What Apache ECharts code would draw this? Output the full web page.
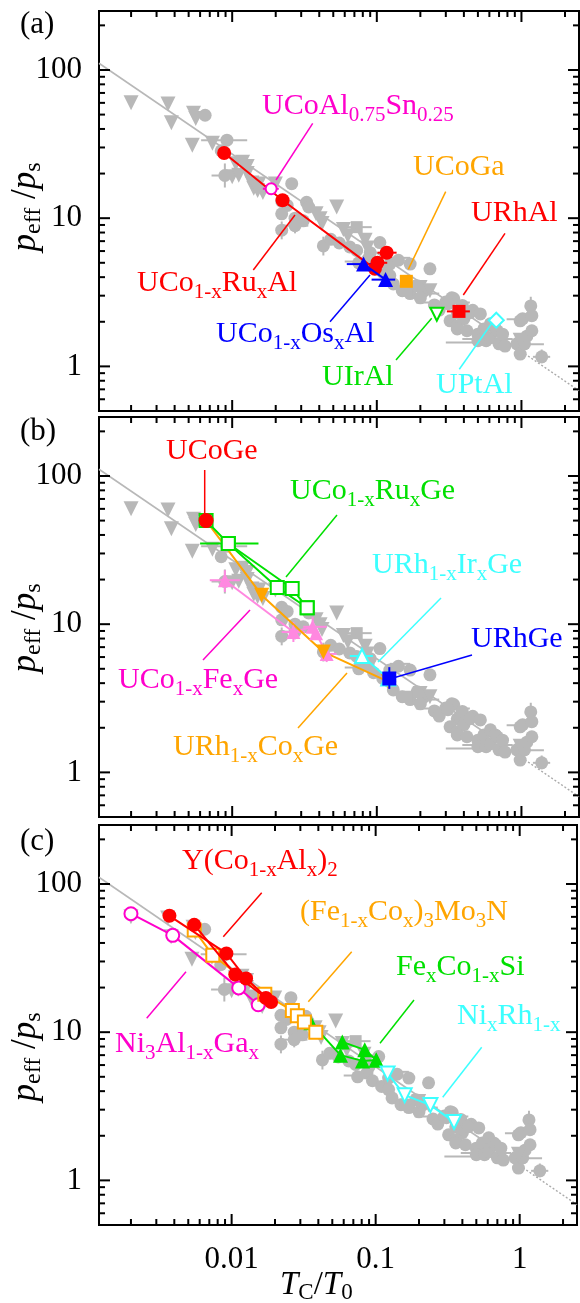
<!DOCTYPE html>
<html><head><meta charset="utf-8">
<script src="https://cdn.jsdelivr.net/npm/echarts@6/dist/echarts.min.js"></script>
<style>html,body{margin:0;padding:0;background:#fff}#c{width:580px;height:1303px}</style>
</head><body><div id="c"></div><script>
// ---------- axes ----------
const X_MIN = 0.0012, X_MAX = 2.5, Y_MIN = 0.5, Y_MAX = 250;
const xTickValues = [0.01, 0.1, 1];
const xTickLabels = ['0.01', '0.1', '1'];
const yTickValues = [1, 10, 100];
const yTickLabels = ['1', '10', '100'];
const xMinorTicks = [0.002,0.003,0.004,0.005,0.006,0.007,0.008,0.009,0.02,0.03,0.04,0.05,0.06,0.07,0.08,0.09,0.2,0.3,0.4,0.5,0.6,0.7,0.8,0.9,2];
const yMinorTicks = [0.6,0.7,0.8,0.9,2,3,4,5,6,7,8,9,20,30,40,50,60,70,80,90,200];

// ---------- gray reference data (same in every panel) ----------
const grayTri = [[0.0020,60],[0.0036,59],[0.0038,44],[0.0054,51],[0.0056,47],[0.0053,31],[0.0073,32],[0.0100,19],[0.0111,19.5],[0.0106,23.3],[0.0127,22.3],[0.0118,23.8],[0.0127,20],[0.0137,17.3],[0.0153,17],[0.0141,15.9],[0.0163,14.9],[0.015,15.4],[0.0199,17],[0.038,10.7],[0.0418,9.2],[0.0528,11.9],[0.0405,9.9],[0.0587,8.4],[0.063,7.6],[0.083,7.1],[0.086,6.3],[0.199,3.4],[0.233,3.24],[0.98,1.5]];
const grayCirc = [[0.0065,49.5],[0.0092,33.6],[0.0084,28.5],[0.0089,19.4],[0.022,13],[0.024,12.2],[0.022,10.7],[0.022,8.3],[0.0258,17.1],[0.0327,12.8],[0.0338,11.9],[0.0272,10],[0.031,9.6],[0.0272,8.9],[0.0427,6.5],[0.048,7.2],[0.055,6.8],[0.065,6.4],[0.0726,6.05],[0.09,5.85],[0.087,5.3],[0.075,5.0],[0.095,4.7],[0.11,4.3],[0.105,6.85],[0.123,4.9],[0.141,5.2],[0.17,4.9],[0.123,4.1],[0.13,3.6],[0.15,3.24],[0.17,3.1],[0.19,3.5],[0.21,3.2],[0.233,4.55],[0.2,2.9],[0.25,2.6],[0.27,2.4],[0.30,2.72],[0.34,2.87],[0.33,2.9],[0.31,2.65],[0.36,2.3],[0.38,2.26],[0.39,2.58],[0.46,2.39],[0.4,2.1],[0.44,2.3],[0.52,2.26],[0.321,2.03],[0.36,1.88],[0.36,1.79],[0.42,1.74],[0.5,1.65],[0.5,1.49],[0.55,1.79],[0.57,1.49],[0.61,1.56],[0.61,1.94],[0.66,1.79],[0.68,1.74],[0.70,1.42],[0.74,1.65],[0.77,1.37],[0.93,1.42],[0.98,2.03],[1.02,2.1],[0.98,1.21],[1.05,1.42],[1.09,1.6],[1.16,2.56],[1.18,2.2],[1.18,1.74],[1.38,1.16]];
const graySq = [[0.0726,8.7],[0.16,3.24]];
const grayErrX = [[33.6,0.0061,0.0127],[19.4,0.0072,0.0111],[8.9,0.022,0.0336],[8.7,0.0587,0.0922],[5.1,0.06,0.09],[5.4,0.123,0.17],[3.1,0.2,0.27],[2.7,0.187,0.44],[1.53,0.39,0.87],[1.45,0.30,0.67],[2.08,0.79,1.27],[1.41,0.75,1.43],[1.16,1.2,1.58]];
const grayErrY = [[0.0089,16.1,23.4],[0.0427,5.6,7.5],[0.022,7.2,9.5],[0.0272,7.9,10],[1.16,2.25,2.95],[1.38,1.05,1.3]];
const fitSolid = [[0.0012,111],[1,1.26]];
const fitDotted = [[1,1.26],[2.5,0.685]];

// ---------- panel (a) ----------
const uCoRuAl = [[0.0088,27.5],[0.0223,13.2],[0.097,4.55],[0.101,5.0],[0.117,5.85]];
const uCoRuAlErrX = [[5.85,0.101,0.137],[5.0,0.094,0.118]];
const uCoOsAl = [[0.081,4.9],[0.115,3.85]];
const uCoOsAlErrX = [[4.9,0.062,0.1],[3.85,0.092,0.134]];
const uCoGa = [[0.16,3.75]];
const uRhAl = [[0.37,2.35]];
const uRhAlErrX = [[2.35,0.305,0.44]];
const uIrAl = [[0.26,2.25]];
const uPtAl = [[0.67,2.05]];
const uCoAlSn = [[0.0186,15.8]];
const uCoAlSnErrX = [[15.8,0.0163,0.021]];

// ---------- panel (b) ----------
const uCoGe = [[0.0066,50]];
const uCoRuGe = [[0.0066,50],[0.0094,35],[0.0205,17.7],[0.033,12.9]];
const uCoRuGe2 = [[0.0094,35],[0.026,17.4],[0.033,12.9]];
const uCoRuGeErrX = [[35,0.006,0.0152]];
const uCoFeGe = [[0.0089,19.8],[0.0265,8.85],[0.036,9.6],[0.038,8.7],[0.045,6.3]];
const uCoFeGeErrX = [[19.8,0.007,0.0113],[8.85,0.022,0.0319],[9.6,0.031,0.045],[6.3,0.0405,0.0527]];
const uCoFeGeErrY = [[0.0089,16.5,23.1],[0.0265,7.58,10.35],[0.036,7.97,11.2],[0.045,5.55,7.19]];
const uRhCoGe = [[0.0066,50],[0.016,15.7],[0.0427,6.5],[0.12,4.1]];
const uRhIrGe = [[0.079,6.1],[0.12,4.3]];
const uRhIrGeErrX = [[6.1,0.065,0.094]];
const uRhGe = [[0.122,4.3]];
const uRhGeErrY = [[0.122,3.66,5.13]];

// ---------- panel (c) ----------
const yCoAlA = [[0.0037,61],[0.0092,34],[0.0126,23],[0.0188,16]];
const yCoAlB = [[0.0055,53],[0.0106,24.5],[0.0173,17]];
const feCoMoN = [[0.0055,49],[0.0074,33],[0.017,18],[0.0264,14],[0.0286,12.9],[0.032,11.7],[0.0384,10]];
const feCoSiA = [[0.0355,11.6],[0.057,7.0],[0.081,6.4],[0.101,6.5]];
const feCoSiB = [[0.0587,8.6],[0.084,7.6],[0.101,6.5]];
const niRh = [[0.121,5.27],[0.159,3.76],[0.24,3.22],[0.35,2.48]];
const ni3AlGa = [[0.002,63],[0.0039,45],[0.0112,19.9],[0.0153,15.3]];

// ---------- styles ----------
const SERIF = '"Liberation Serif","Times New Roman",serif';
const RED = '#ff0000', BLUE = '#0000ff', ORANGE = '#ffa500', GREEN = '#00e000',
      CYAN = '#3cffff', MAGENTA = '#ff00cc', PINK = '#ff88e0', GRAY = '#b8b8b8';
const GRID_TOPS = [11, 417, 825];
const GRID_H = 400;

const chart = echarts.init(document.getElementById('c'), null, {renderer: 'canvas'});

function fmt(vals, labels) {
  return v => { for (let i = 0; i < vals.length; i++) if (Math.abs(v / vals[i] - 1) < 1e-6) return labels[i]; return ''; };
}

const grids = [], xAxes = [], yAxes = [], series = [];
for (let p = 0; p < 3; p++) {
  grids.push({left: 99, width: 480, top: GRID_TOPS[p], height: GRID_H, show: true, borderColor: '#000', borderWidth: 2, backgroundColor: 'transparent'});
  xAxes.push({type: 'log', logBase: 10, gridIndex: p, min: X_MIN, max: X_MAX,
    axisLine: {show: false}, axisTick: {show: false}, splitLine: {show: false},
    axisLabel: {show: p === 2, formatter: fmt(xTickValues, xTickLabels), fontFamily: SERIF, fontSize: 31, color: '#000', margin: 19}});
  yAxes.push({type: 'log', logBase: 10, gridIndex: p, min: Y_MIN, max: Y_MAX,
    axisLine: {show: false}, axisTick: {show: false}, splitLine: {show: false},
    axisLabel: {show: true, formatter: fmt(yTickValues, yTickLabels), fontFamily: SERIF, fontSize: 31, color: '#000', margin: 17}});
}

function base(p, extra) {
  return Object.assign({xAxisIndex: p, yAxisIndex: p, silent: true, animation: false, emphasis: {disabled: true}}, extra);
}
function xTicks(p, vals, len) {
  return base(p, {type: 'custom', clip: false, z: 20, data: vals.map(v => [v, Y_MIN]), encode: {x: 0, y: 1},
    renderItem: (params, api) => {
      const v = api.value(0), b = api.coord([v, Y_MIN]), t = api.coord([v, Y_MAX]);
      return {type: 'group', children: [
        {type: 'line', shape: {x1: b[0], y1: b[1], x2: b[0], y2: b[1] - len}, style: {stroke: '#000', lineWidth: 2}},
        {type: 'line', shape: {x1: t[0], y1: t[1], x2: t[0], y2: t[1] + len}, style: {stroke: '#000', lineWidth: 2}}]};
    }});
}
function yTicks(p, vals, len) {
  return base(p, {type: 'custom', clip: false, z: 20, data: vals.map(v => [X_MIN, v]), encode: {x: 0, y: 1},
    renderItem: (params, api) => {
      const v = api.value(1), l = api.coord([X_MIN, v]), r = api.coord([X_MAX, v]);
      return {type: 'group', children: [
        {type: 'line', shape: {x1: l[0], y1: l[1], x2: l[0] + len, y2: l[1]}, style: {stroke: '#000', lineWidth: 2}},
        {type: 'line', shape: {x1: r[0], y1: r[1], x2: r[0] - len, y2: r[1]}, style: {stroke: '#000', lineWidth: 2}}]};
    }});
}
function errX(p, data, color, w, z) {
  return base(p, {type: 'custom', z: z, data: data, encode: {x: [1, 2], y: 0},
    renderItem: (params, api) => {
      const y = api.value(0), a = api.coord([api.value(1), y]), b = api.coord([api.value(2), y]);
      return {type: 'line', shape: {x1: a[0], y1: a[1], x2: b[0], y2: b[1]}, style: {stroke: color, lineWidth: w}};
    }});
}
function errY(p, data, color, w, z) {
  return base(p, {type: 'custom', z: z, data: data, encode: {x: 0, y: [1, 2]},
    renderItem: (params, api) => {
      const x = api.value(0), a = api.coord([x, api.value(1)]), b = api.coord([x, api.value(2)]);
      return {type: 'line', shape: {x1: a[0], y1: a[1], x2: b[0], y2: b[1]}, style: {stroke: color, lineWidth: w}};
    }});
}
function marks(p, data, o) {
  return base(p, {type: o.line ? 'line' : 'scatter', data: data, z: o.z || 5,
    symbol: o.symbol || 'circle', symbolSize: o.size || 13, symbolRotate: o.rotate || 0,
    showSymbol: true, clip: true,
    lineStyle: {color: o.color, width: o.lw || 2},
    itemStyle: o.open ? {color: '#fff', borderColor: o.color, borderWidth: 2, opacity: 1} : {color: o.color, borderWidth: 0, opacity: 1}});
}
function plainLine(p, data, color, w, type, z) {
  return base(p, {type: 'line', data: data, symbol: 'none', showSymbol: false, z: z, clip: true,
    lineStyle: {color: color, width: w, type: type}});
}

for (let p = 0; p < 3; p++) {
  series.push(plainLine(p, fitSolid, GRAY, 1.6, 'solid', 2));
  series.push(plainLine(p, fitDotted, '#aaaaaa', 1.4, [2, 2], 2));
  series.push(errX(p, grayErrX, GRAY, 2, 2));
  series.push(errY(p, grayErrY, GRAY, 2, 2));
  series.push(marks(p, grayCirc, {color: GRAY, size: 13, z: 2}));
  series.push(marks(p, graySq, {color: GRAY, symbol: 'rect', size: 12, z: 2}));
  series.push(marks(p, grayTri, {color: GRAY, symbol: 'triangle', rotate: 180, size: 15, z: 2}));
  series.push(xTicks(p, xTickValues, 11));
  series.push(xTicks(p, xMinorTicks, 6));
  series.push(yTicks(p, yTickValues, 11));
  series.push(yTicks(p, yMinorTicks, 6));
}

// panel a
series.push(errX(0, uCoAlSnErrX, MAGENTA, 2, 4));
series.push(marks(0, uCoAlSn, {color: MAGENTA, open: true, size: 11}));
series.push(errX(0, uCoRuAlErrX, RED, 2, 4));
series.push(marks(0, uCoRuAl, {color: RED, line: true, size: 14}));
series.push(errX(0, uCoOsAlErrX, BLUE, 2, 4));
series.push(marks(0, uCoOsAl, {color: BLUE, line: true, symbol: 'triangle', size: 15, z: 6}));
series.push(marks(0, uCoGa, {color: ORANGE, symbol: 'rect', size: 13}));
series.push(errX(0, uRhAlErrX, RED, 2, 4));
series.push(marks(0, uRhAl, {color: RED, symbol: 'rect', size: 13}));
series.push(marks(0, uIrAl, {color: GREEN, open: true, symbol: 'triangle', rotate: 180, size: 13}));
series.push(marks(0, uPtAl, {color: CYAN, open: true, symbol: 'diamond', size: 15}));

// panel b
series.push(errX(1, uCoFeGeErrX, PINK, 2, 4));
series.push(errY(1, uCoFeGeErrY, PINK, 2, 4));
series.push(marks(1, uCoFeGe, {color: PINK, line: true, symbol: 'triangle', size: 14}));
series.push(marks(1, uRhCoGe, {color: ORANGE, line: true, symbol: 'triangle', rotate: 180, size: 15}));
series.push(errX(1, uCoRuGeErrX, GREEN, 2, 4));
series.push(marks(1, uCoRuGe, {color: GREEN, line: true, open: true, symbol: 'rect', size: 13, z: 6}));
series.push(marks(1, uCoRuGe2, {color: GREEN, line: true, open: true, symbol: 'rect', size: 13, z: 6}));
series.push(errX(1, uRhIrGeErrX, CYAN, 2, 4));
series.push(marks(1, uRhIrGe, {color: CYAN, line: true, open: true, symbol: 'triangle', size: 14, z: 6}));
series.push(errY(1, uRhGeErrY, BLUE, 2, 7));
series.push(marks(1, uRhGe, {color: BLUE, symbol: 'rect', size: 14, z: 7}));
series.push(marks(1, uCoGe, {color: RED, size: 15, z: 7}));

// panel c
series.push(marks(2, ni3AlGa, {color: MAGENTA, line: true, open: true, size: 13}));
series.push(marks(2, feCoSiA, {color: GREEN, line: true, symbol: 'triangle', size: 15}));
series.push(marks(2, feCoSiB, {color: GREEN, line: true, symbol: 'triangle', size: 15}));
series.push(marks(2, feCoMoN, {color: ORANGE, line: true, open: true, symbol: 'rect', size: 13, z: 6}));
series.push(marks(2, yCoAlA, {color: RED, line: true, size: 14, z: 7}));
series.push(marks(2, yCoAlB, {color: RED, line: true, size: 14, z: 7}));
series.push(marks(2, niRh, {color: CYAN, line: true, open: true, symbol: 'triangle', rotate: 180, size: 14}));

// ---------- text annotations ----------
function richParts(str, mainFont, subFont, mainLH, subDrop) {
  const rich = {
    m: {font: mainFont, lineHeight: mainLH, verticalAlign: 'middle'},
    i: {font: 'italic ' + mainFont, lineHeight: mainLH, verticalAlign: 'middle'},
    s: {font: subFont, verticalAlign: 'middle', padding: [subDrop, 0, 0, 0]}
  };
  let out = '';
  const re = /_\{([^}]*)\}|\*\{([^}]*)\}|([^_*]+)/g;
  let mm;
  while ((mm = re.exec(str)) !== null) {
    if (mm[1] !== undefined) out += '{s|' + mm[1] + '}';
    else if (mm[2] !== undefined) out += '{i|' + mm[2] + '}';
    else out += '{m|' + mm[3] + '}';
  }
  return {text: out, rich: rich};
}
const ANN_MAIN = '30px ' + SERIF, ANN_SUB = '21px ' + SERIF;
const annotations = [
  {t: 'UCoAl_{0.75}Sn_{0.25}', c: MAGENTA, x: 262, y: 106, l: [312.7, 123.3, 276, 180]},
  {t: 'UCoGa', c: ORANGE, x: 413, y: 167, l: [445.7, 191.7, 408.3, 269.3]},
  {t: 'URhAl', c: RED, x: 471, y: 213, l: [505, 233.3, 463.3, 295]},
  {t: 'UCo_{1-x}Ru_{x}Al', c: RED, x: 137, y: 283, l: [253.3, 270, 295, 215]},
  {t: 'UCo_{1-x}Os_{x}Al', c: BLUE, x: 216, y: 334, l: [330, 321.7, 370, 275]},
  {t: 'UIrAl', c: GREEN, x: 322, y: 377, l: [396, 360, 431.7, 318.3]},
  {t: 'UPtAl', c: CYAN, x: 436, y: 385, l: [459.3, 369.3, 491.7, 323.3]},
  {t: 'UCoGe', c: RED, x: 166, y: 451, l: [204.7, 470, 204.7, 516.7]},
  {t: 'UCo_{1-x}Ru_{x}Ge', c: GREEN, x: 290, y: 491, l: [337, 515, 286, 577]},
  {t: 'URh_{1-x}Ir_{x}Ge', c: CYAN, x: 372, y: 565, l: [441, 598, 378, 662]},
  {t: 'URhGe', c: BLUE, x: 471, y: 639, l: [472, 655, 393, 678]},
  {t: 'UCo_{1-x}Fe_{x}Ge', c: MAGENTA, x: 118, y: 680, l: [203, 660, 250, 610]},
  {t: 'URh_{1-x}Co_{x}Ge', c: ORANGE, x: 173, y: 747, l: [298, 728, 347, 673]},
  {t: 'Y(Co_{1-x}Al_{x})_{2}', c: RED, x: 182, y: 861, l: [261.7, 892.7, 223.3, 936.7]},
  {t: '(Fe_{1-x}Co_{x})_{3}Mo_{3}N', c: ORANGE, x: 300, y: 912, l: [351.7, 951.7, 308.3, 1001.7]},
  {t: 'Fe_{x}Co_{1-x}Si', c: GREEN, x: 396, y: 967, l: [414, 1000, 380, 1043.3]},
  {t: 'Ni_{x}Rh_{1-x}', c: CYAN, x: 457, y: 1016, l: [481.7, 1047.3, 442.7, 1097.3]},
  {t: 'Ni_{3}Al_{1-x}Ga_{x}', c: MAGENTA, x: 115, y: 1044, l: [186, 971.7, 146.7, 1018.3]}
];
const graphic = [];
annotations.forEach(a => {
  const r = richParts(a.t, ANN_MAIN, ANN_SUB, 32, 18);
  graphic.push({type: 'text', x: a.x, y: a.y, silent: true, z: 100,
    style: {text: r.text, rich: r.rich, fill: a.c, font: ANN_MAIN, align: 'left', verticalAlign: 'middle', textAlign: 'left', textVerticalAlign: 'middle'}});
  graphic.push({type: 'line', silent: true, z: 100, shape: {x1: a.l[0], y1: a.l[1], x2: a.l[2], y2: a.l[3]}, style: {stroke: a.c, lineWidth: 1.5}});
});
['(a)', '(b)', '(c)'].forEach((s, i) => {
  graphic.push({type: 'text', x: 20, y: [25, 432, 842][i], silent: true, z: 100,
    style: {text: s, fill: '#000', font: '31px ' + SERIF, align: 'left', verticalAlign: 'middle', textAlign: 'left', textVerticalAlign: 'middle'}});
});
[207, 628, 1057].forEach(cy => {
  const r = richParts('*{p}_{eff} /*{p}_{s}', '35px ' + SERIF, '24px ' + SERIF, 38, 16);
  graphic.push({type: 'text', x: 26, y: cy, rotation: Math.PI / 2, silent: true, z: 100,
    style: {text: r.text, rich: r.rich, fill: '#000', font: '35px ' + SERIF, align: 'center', verticalAlign: 'middle', textAlign: 'center', textVerticalAlign: 'middle'}});
});
{
  const r = richParts('*{T}_{C}/*{T}_{0}', '33px ' + SERIF, '23px ' + SERIF, 36, 16);
  graphic.push({type: 'text', x: 280, y: 1285, silent: true, z: 100,
    style: {text: r.text, rich: r.rich, fill: '#000', font: '33px ' + SERIF, align: 'left', verticalAlign: 'middle', textAlign: 'left', textVerticalAlign: 'middle'}});
}

chart.setOption({
  animation: false,
  backgroundColor: '#fff',
  grid: grids, xAxis: xAxes, yAxis: yAxes, series: series, graphic: graphic
});
</script></body></html>
